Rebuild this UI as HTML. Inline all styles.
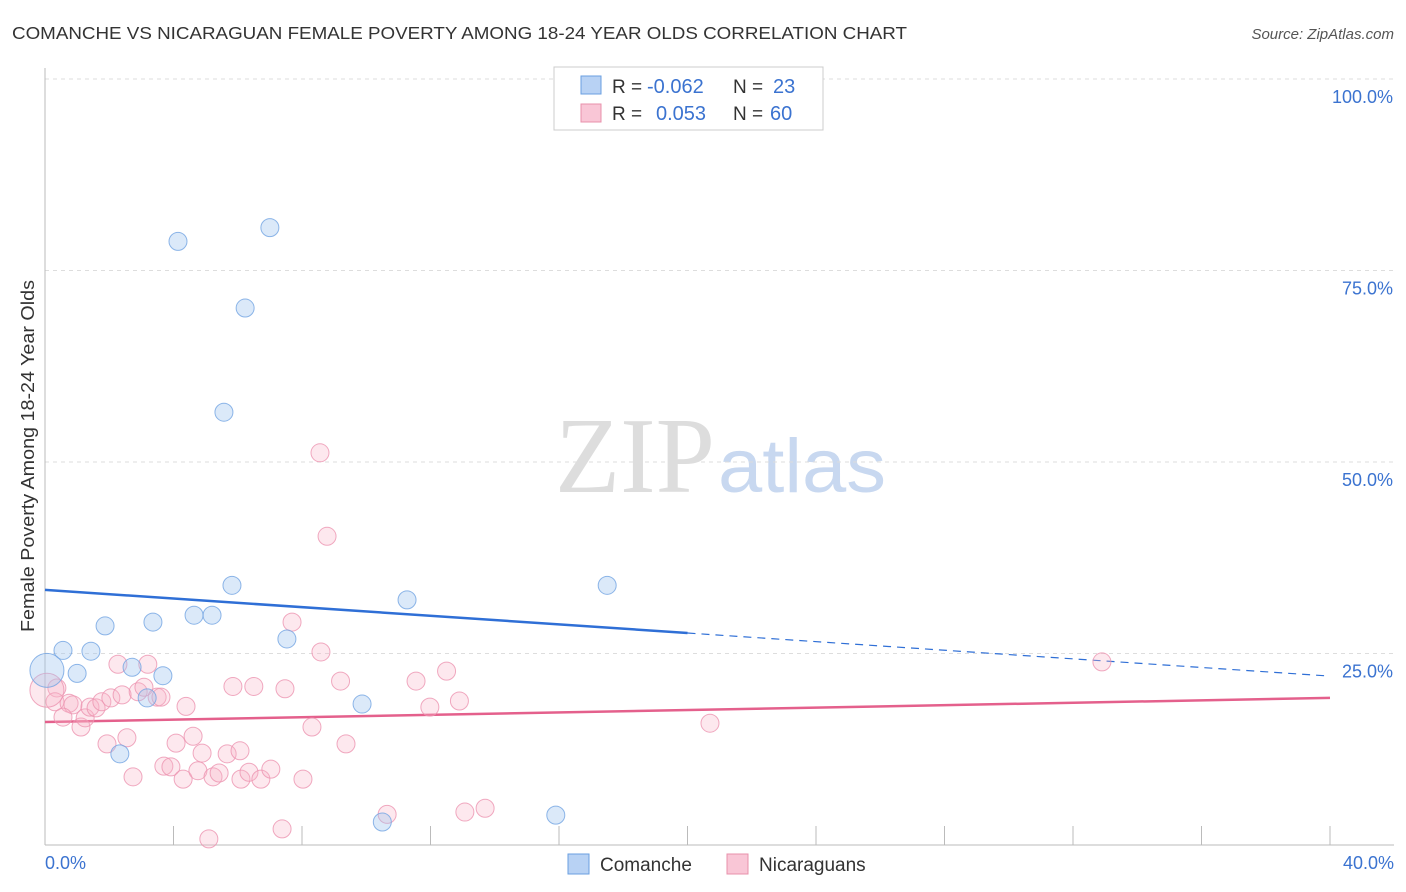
<!DOCTYPE html>
<html><head><meta charset="utf-8"><style>
body{margin:0;background:#fff;font-family:"Liberation Sans",sans-serif;}
svg{display:block}
</style></head><body>
<svg id="chart" width="1406" height="892" xmlns="http://www.w3.org/2000/svg">
<text x="12" y="39" font-size="17.5" fill="#333" textLength="895" lengthAdjust="spacingAndGlyphs">COMANCHE VS NICARAGUAN FEMALE POVERTY AMONG 18-24 YEAR OLDS CORRELATION CHART</text>
<text x="1394" y="39" font-size="15" fill="#555" text-anchor="end" font-style="italic">Source: ZipAtlas.com</text>
<text transform="translate(34,456) rotate(-90)" font-size="18" fill="#333" text-anchor="middle" textLength="352" lengthAdjust="spacingAndGlyphs">Female Poverty Among 18-24 Year Olds</text>
<g>
<text x="555" y="492" font-size="108" font-family="Liberation Serif,serif" fill="#ddd" textLength="160" lengthAdjust="spacingAndGlyphs">ZIP</text>
<text x="718" y="492" font-size="76" fill="#c8d8f0" textLength="168" lengthAdjust="spacingAndGlyphs">atlas</text>
</g>
<g id="grid"></g><g id="axes"></g><g id="lines"></g><g id="pts"></g>
<g>
<rect x="554" y="67" width="269" height="63" fill="#fff" stroke="#ccc"/>
<rect x="581" y="76" width="20" height="18" fill="#b8d2f4" stroke="#6a9fe0"/>
<rect x="581" y="104" width="20" height="18" fill="#f9c6d6" stroke="#e890ab"/>
<text x="612" y="93" font-size="19" fill="#333">R =</text><text x="647" y="93" font-size="20" fill="#3b73d0">-0.062</text>
<text x="733" y="93" font-size="19" fill="#333">N =</text><text x="773" y="93" font-size="20" fill="#3b73d0">23</text>
<text x="612" y="120" font-size="19" fill="#333">R =</text><text x="656" y="120" font-size="20" fill="#3b73d0">0.053</text>
<text x="733" y="120" font-size="19" fill="#333">N =</text><text x="770" y="120" font-size="20" fill="#3b73d0">60</text>
</g>
<g>
<rect x="568" y="854" width="21" height="20" fill="#b8d2f4" stroke="#6a9fe0"/>
<text x="600" y="871" font-size="19" fill="#333">Comanche</text>
<rect x="727" y="854" width="21" height="20" fill="#f9c6d6" stroke="#e890ab"/>
<text x="759" y="871" font-size="19" fill="#333">Nicaraguans</text>
</g>
</svg>
<script>
const xTickVals=[0,4,8,12,16,20,24,28,32,36,40];
const yTickVals=[25,50,75,100];
const yTickLabels=["25.0%","50.0%","75.0%","100.0%"];
const comancheX=[4.14,7.0,6.23,5.57,5.82,17.5,11.27,4.64,5.2,3.36,1.87,7.53,0.56,1.43,2.71,1.0,3.67,3.18,9.87,2.33,10.5,15.9,0.06];
const comancheY=[78.8,80.6,70.1,56.5,33.9,33.9,32.0,30.0,30.0,29.1,28.6,26.9,25.4,25.3,23.2,22.4,22.1,19.2,18.4,11.9,3.0,3.9,22.8];
const nicX=[8.56,8.78,7.69,8.59,32.9,20.7,12.5,11.55,12.9,11.98,9.2,7.47,6.5,5.85,2.27,3.2,8.31,9.37,10.65,13.07,13.7,7.38,5.1,0.37,0.31,0.75,0.87,0.56,1.12,1.25,1.4,1.59,1.77,2.05,2.4,2.9,3.08,3.49,3.61,4.39,1.93,2.55,4.08,4.61,4.89,5.67,6.07,2.74,3.7,3.92,4.3,4.76,5.23,5.42,6.1,6.35,6.72,7.03,8.03,0.06];
const nicY=[51.2,40.3,29.1,25.2,23.9,15.9,22.7,21.4,18.8,18.0,21.4,20.4,20.7,20.7,23.6,23.6,15.4,13.2,4.0,4.3,4.8,2.1,0.8,20.5,18.7,18.5,18.3,16.7,15.4,16.6,18.0,17.9,18.7,19.2,19.6,20.0,20.6,19.3,19.3,18.1,13.2,14.0,13.3,14.2,12.0,11.9,12.3,8.9,10.3,10.2,8.6,9.7,8.9,9.4,8.6,9.5,8.6,9.9,8.6,20.2];
const comancheTrend=[33.3,22.05];
const nicTrend=[16.05,19.2];
const NS="http://www.w3.org/2000/svg";
const X=v=>45+v/40*1285, Y=v=>845-v/100*766;
function mk(t,a,p){const e=document.createElementNS(NS,t);for(const k in a)e.setAttribute(k,a[k]);document.getElementById(p).appendChild(e);return e;}
yTickVals.forEach((v,i)=>{
 const g=mk('line',{x1:45,x2:1394,y1:Y(v),y2:Y(v),stroke:'#ddd','stroke-dasharray':'4,4'},'grid');
 
 
 const t=mk('text',{x:1393,y:Y(v)+24,'font-size':18,fill:'#3b73d0','text-anchor':'end'},'grid');
 t.textContent=yTickLabels[i];
 
 
});
const ax=mk('line',{x1:45,x2:45,y1:68,y2:845,stroke:'#bbb'},'axes');


const bx=mk('line',{x1:45,x2:1394,y1:845,y2:845,stroke:'#bbb'},'axes');


xTickVals.forEach(v=>{if(v===0)return;
 const l=mk('line',{x1:X(v),x2:X(v),y1:826,y2:845,stroke:'#bbb'},'axes');
 
 
});
const xl0=mk('text',{x:45,y:869,'font-size':18,fill:'#3b73d0'},'axes');xl0.textContent='0.0%';


const xl1=mk('text',{x:1394,y:869,'font-size':18,fill:'#3b73d0','text-anchor':'end'},'axes');xl1.textContent='40.0%';


function pts(xs,ys,fill,stroke,name){xs.forEach((x,i)=>{
 const big=i===xs.length-1;
 const c=mk('circle',{cx:X(x),cy:Y(ys[i]),r:big?17:9,fill:fill,stroke:stroke,'stroke-width':1,'stroke-opacity':0.8},'pts');
 
 
});}
pts(nicX,nicY,'rgba(248,180,200,0.3)','#ec94b0','nicaraguan-point');
pts(comancheX,comancheY,'rgba(160,196,240,0.38)','#72a4e2','comanche-point');
const yc=x=>comancheTrend[0]+(comancheTrend[1]-comancheTrend[0])*x/40;
const l1=mk('line',{x1:X(0),y1:Y(yc(0)),x2:X(20),y2:Y(yc(20)),stroke:'#2f6fd6','stroke-width':2.5},'lines');


const l2=mk('line',{x1:X(20),y1:Y(yc(20)),x2:X(40),y2:Y(yc(40)),stroke:'#2f6fd6','stroke-width':1.2,'stroke-dasharray':'8,6'},'lines');


const l3=mk('line',{x1:X(0),y1:Y(nicTrend[0]),x2:X(40),y2:Y(nicTrend[1]),stroke:'#e4608c','stroke-width':2.5},'lines');


</script>
</body></html>
